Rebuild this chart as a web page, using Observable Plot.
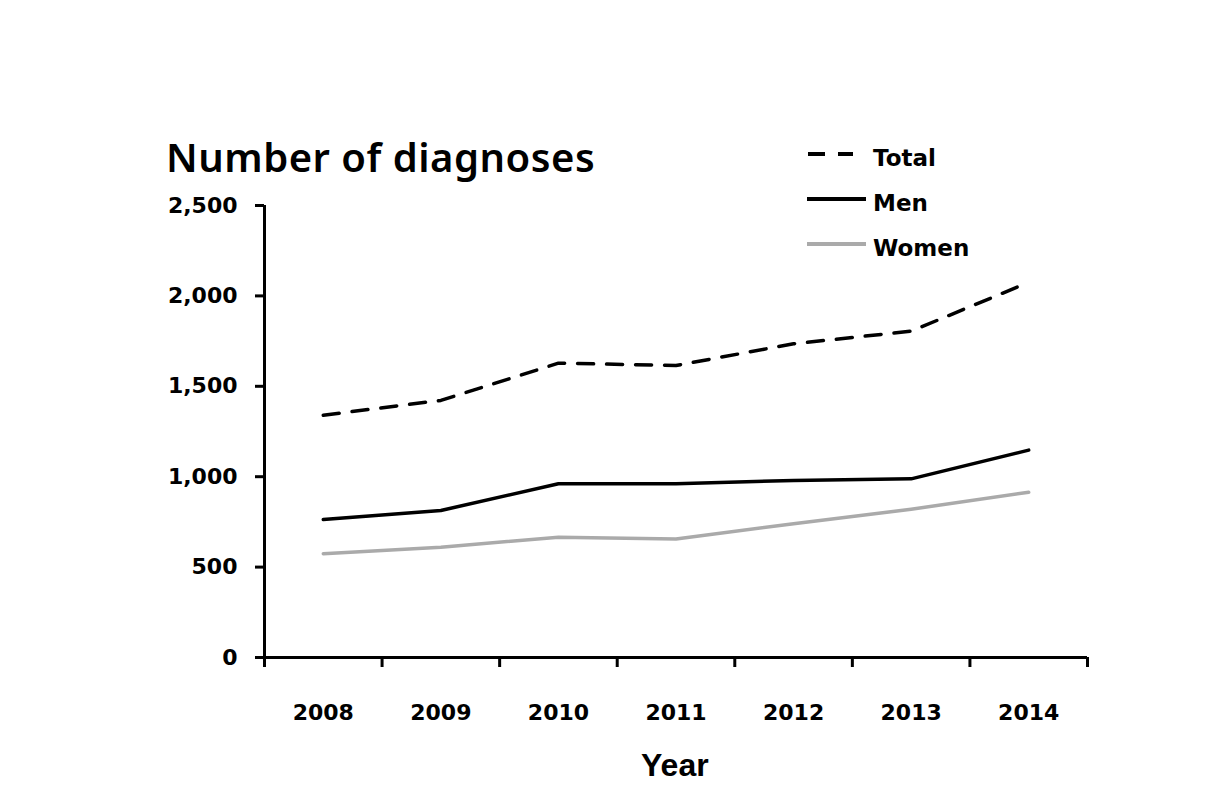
<!DOCTYPE html>
<html>
<head>
<meta charset="utf-8">
<script src="https://cdn.jsdelivr.net/npm/d3@7"></script>
<script src="https://cdn.jsdelivr.net/npm/@observablehq/plot@0.6"></script>
<style>
  html, body { margin: 0; padding: 0; background: #fff; }
  #wrap { position: relative; width: 1228px; height: 799px; overflow: hidden; }
  #chart { position: absolute; left: 0; top: 0; }
  .abs { position: absolute; white-space: nowrap; color: #000; }
  #title { left: 166px; top: 136.5px; font-family: "Noto Sans", sans-serif; font-weight: 600; font-size: 40px; letter-spacing: 0.5px; line-height: 1; }
  #xlabel { left: 641px; top: 749px; font-family: "Liberation Sans", Arial, sans-serif; font-weight: bold; font-size: 32px; line-height: 1; }
  #legend { position: absolute; left: 0; top: 0; }
</style>
</head>
<body>
<div id="wrap">
  <div id="chart"></div>
  <div id="title" class="abs">Number of diagnoses</div>
  <div id="xlabel" class="abs">Year</div>
  <svg id="legend" width="1228" height="799"></svg>
</div>
<script>
// Data
const years = [2008, 2009, 2010, 2011, 2012, 2013, 2014];
const total = [1340, 1422, 1628, 1615, 1735, 1805, 2075];
const men   = [763, 813, 961, 961, 979, 988, 1147];
const women = [574, 610, 665, 655, 740, 820, 914];
const seriesNames = ["Total", "Men", "Women"];
const yTicks = [0, 500, 1000, 1500, 2000, 2500];
const xBounds = [2007.5, 2008.5, 2009.5, 2010.5, 2011.5, 2012.5, 2013.5, 2014.5];

const styles = {
  Total: {stroke: "#000", dash: "16,13"},
  Men:   {stroke: "#000", dash: null},
  Women: {stroke: "#aaaaaa", dash: null}
};

const rows = (vals, name) => years.map((yr, i) => ({year: yr, value: vals[i], series: name}));
const dTotal = rows(total, "Total");
const dMen = rows(men, "Men");
const dWomen = rows(women, "Women");

const plot = Plot.plot({
  width: 1228,
  height: 799,
  marginLeft: 264,
  marginRight: 141,
  marginTop: 205,
  marginBottom: 142,
  style: {fontFamily: "DejaVu Sans, sans-serif", fontWeight: "bold", fontSize: "22px", color: "#000", background: "transparent"},
  x: {type: "linear", domain: [2007.5, 2014.5]},
  y: {domain: [0, 2500]},
  marks: [
    Plot.axisY({ticks: yTicks, tickSize: 9, tickPadding: 18, tickFormat: d3.format(","), strokeWidth: 3, label: null, fontSize: 22}),
    Plot.axisX({ticks: xBounds, tickSize: 10, tickFormat: () => "", strokeWidth: 3, label: null}),
    Plot.axisX({ticks: years, tickSize: 0, tickPadding: 47, tickFormat: d => String(d), label: null, fontSize: 22}),
    Plot.ruleY([0], {stroke: "#000", strokeWidth: 3}),
    Plot.ruleX([2007.5], {y1: 0, y2: 2500, stroke: "#000", strokeWidth: 3}),
    Plot.line(dWomen, {x: "year", y: "value", stroke: styles.Women.stroke, strokeWidth: 3.5}),
    Plot.line(dMen, {x: "year", y: "value", stroke: styles.Men.stroke, strokeWidth: 3.5}),
    Plot.line(dTotal, {x: "year", y: "value", stroke: styles.Total.stroke, strokeWidth: 3.5, strokeDasharray: styles.Total.dash, strokeLinecap: "round"})
  ]
});
document.getElementById("chart").appendChild(plot);

// Legend
const lg = d3.select("#legend");
const legendY = {Total: 154, Men: 199, Women: 244};
seriesNames.forEach(name => {
  const y = legendY[name];
  const s = styles[name];
  lg.append("line")
    .attr("x1", name === "Total" ? 808 : 807).attr("x2", name === "Total" ? 853 : 866)
    .attr("y1", y).attr("y2", y)
    .attr("stroke", s.stroke).attr("stroke-width", 4)
    .attr("stroke-dasharray", s.dash ? "17,13" : null);
  lg.append("text")
    .attr("x", 873).attr("y", y + 5)
    .attr("dominant-baseline", "middle")
    .attr("font-family", "DejaVu Sans, sans-serif")
    .attr("font-weight", "bold")
    .attr("font-size", 23)
    .text(name);
});
</script>
</body>
</html>
